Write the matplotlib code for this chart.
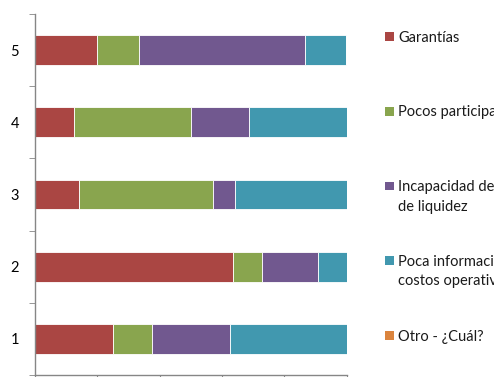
import matplotlib.pyplot as plt
import matplotlib.patches as patches
import numpy as np

# Datos (porcentajes por categoría)
categorias = ['1', '2', '3', '4', '5']
garantias = [25.0, 63.6, 14.3, 12.5, 20.0]
pocos_participantes = [12.5, 9.1, 42.9, 37.5, 13.3]
incapacidad = [25.0, 18.2, 7.1, 18.8, 53.3]
poca_informacion = [37.5, 9.1, 35.7, 31.2, 13.3]
otro = [0.0, 0.0, 0.0, 0.0, 0.0]

series_labels = ['Garantías', 'Pocos participantes',
                 'Incapacidad de acceso a fuentes\nde liquidez',
                 'Poca información sobre\ncostos operativos',
                 'Otro - ¿Cuál?']
x_ticks = [0, 20, 40, 60, 80, 100]

colores = ['#AA4643', '#89A54E', '#71588F', '#4198AF', '#DB843D']

plt.rcParams['font.family'] = ['Lato', 'DejaVu Sans']
FS = 10.5

W, H = 494, 377
fig = plt.figure(figsize=(W / 100, H / 100), dpi=100)
ax = fig.add_axes([34.7 / W, (H - 375) / H, (346.7 - 34.7) / W, (375 - 14) / H])

series = [garantias, pocos_participantes, incapacidad, poca_informacion, otro]
y = np.arange(1, len(categorias) + 1)
left = np.zeros(len(categorias))
for vals, col in zip(series, colores):
    vals = np.array(vals)
    ax.barh(y, vals, left=left, height=0.41, color=col, edgecolor='white', linewidth=0.6)
    left += vals

ax.set_xlim(0, 100)
ax.set_ylim(0.5, len(categorias) + 0.5)
ax.set_yticks(y)
ax.set_yticklabels(categorias, fontsize=FS)
ax.set_yticks(np.arange(0.5, len(categorias) + 1, 1), minor=True)
ax.tick_params(axis='y', which='major', length=0, pad=11.3)
ax.tick_params(axis='y', which='minor', length=4, color='#868686', direction='out')
# etiquetas del eje x quedan fuera del recorte del gráfico original
ax.set_xticks(x_ticks)
ax.set_xticklabels([])
ax.tick_params(axis='x', length=4, color='#868686', direction='out')

for s in ['top', 'right']:
    ax.spines[s].set_visible(False)
for s in ['left', 'bottom']:
    ax.spines[s].set_color('#868686')
    ax.spines[s].set_linewidth(1.0)

# Leyenda manual (estilo Excel), texto recortado por el borde derecho
leg_y0, leg_dy, line_h = 36.7, 74.7, 19.5
for i, (lab, col) in enumerate(zip(series_labels, colores)):
    yc = leg_y0 + i * leg_dy
    fig.patches.append(patches.Rectangle((385 / W, (H - yc - 4.3) / H), 8.7 / W, 8.7 / H,
                                         transform=fig.transFigure, facecolor=col,
                                         edgecolor='none'))
    for j, linea in enumerate(lab.split('\n')):
        fig.text(398 / W, (H - yc - 5 - j * line_h) / H, linea, fontsize=FS,
                 va='baseline', ha='left', color='#1a1a1a')

fig.savefig('out.png', dpi=100)
